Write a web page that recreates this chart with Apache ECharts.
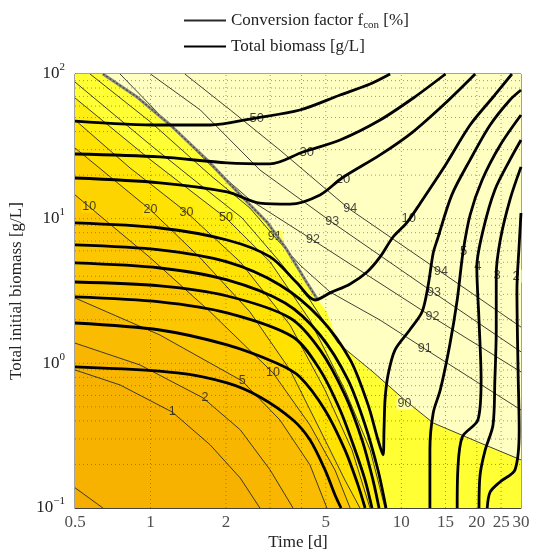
<!DOCTYPE html>
<html><head><meta charset="utf-8">
<script src="https://cdn.jsdelivr.net/npm/echarts@6/dist/echarts.min.js"></script>
<style>html,body{margin:0;padding:0;background:#fff}#c{width:533px;height:553px}</style>
</head><body><div id="c"></div>
<script>
// ---------- axis ticks / grid ----------
const XTICKS = [0.5, 1, 2, 5, 10, 15, 20, 25, 30];
const GRID_X = [1, 2, 3, 4, 5, 10, 15, 20, 25];
const GRID_Y = [0.2,0.3,0.4,0.5,0.6,0.7,0.8,0.9,1,2,3,4,5,6,7,8,9,10,20,30,40,50,60,70,80,90];

// ---------- conversion factor contours [time d, biomass g/L] ----------
const T0_2 = [[0.5,0.138],[0.574,0.116],[0.646,0.1]];
const T1  = [[0.5,0.9],[0.756,0.709],[1.22,0.461],[1.73,0.273],[2.28,0.161],[2.73,0.1]];
const T2  = [[0.5,1.38],[0.908,0.975],[1.62,0.577],[2.28,0.347],[3.0,0.183],[3.7,0.1]];
const T5  = [[0.5,2.83],[1.09,1.57],[2.32,0.755],[3.28,0.406],[4.32,0.199],[5.05,0.1]];
const T10 = [[0.5,14.6],[1.0,5.35],[1.73,2.27],[3.08,0.859],[4.32,0.375],[5.44,0.183],[6.25,0.1]];
const T20 = [[0.5,30.8],[1.0,11.5],[1.58,5.35],[2.49,2.27],[3.6,0.9],[4.74,0.347],[5.96,0.156],[6.84,0.1]];
const T30 = [[0.5,48.1],[0.829,22.4],[1.39,11.1],[2.28,5.02],[3.6,1.84],[4.96,0.655],[6.36,0.252],[7.5,0.1]];
const T50 = [[0.5,68.3],[1.0,25.5],[2.0,10.1],[3.0,5.02],[4.32,1.99],[5.96,0.655],[7.51,0.252],[8.61,0.1]];
const T90 = [[0.5,88],[1.0,32.3],[1.58,17.1],[2.32,10.1],[3.28,5.02],[4.32,2.74],[5.59,1.38],[7.71,0.872],[10.3,0.559],[13.4,0.387],[20.6,0.282],[30,0.215]];
const T91 = [[0.574,100],[1.0,46.6],[1.73,20.0],[2.49,11.85],[3.13,7.47],[3.94,4.79],[5.2,3.11],[8.23,1.99],[12.4,1.26],[30,0.476]];
const T92 = [[0.756,100],[1.14,48.1],[1.73,23.5],[2.49,13.5],[4.44,7.12],[13.3,2.09],[30,0.872]];
const T93 = [[1.0,100],[1.58,56.4],[2.73,21.7],[5.34,9.34],[13.5,3.07],[30,1.2]];
const T94 = [[1.37,100],[2.08,56.4],[3.28,29.8],[6.19,11.7],[14.4,4.28],[30,1.78]];

// ---------- total biomass contours ----------
const B50 = [[0.5,47.3],[1.09,44.4],[1.73,44.4],[2.61,49.6],[3.94,56.4],[5.7,71.6],[7.51,85.3],[9.02,100]];
const B30 = [[0.5,28.0],[1.09,26.7],[2.02,24.3],[3.0,23.9],[4.05,28.9],[5.7,35],[8.23,48.1],[11.3,69.3],[15,100]];
const B20 = [[0.5,19.1],[1.09,17.7],[2.02,15.3],[2.73,12.8],[3.6,12.6],[4.74,14.6],[5.8,19.1],[8.23,27.6],[11.1,39.7],[15,63],[19.7,100]];
const B10 = [[0.5,9.34],[1.09,8.62],[2.02,7.12],[3.0,5.44],[3.84,3.59],[4.53,2.74],[5.2,3.07],[6.25,3.54],[7.3,4.28],[8.23,5.44],[9.27,7.47],[10.5,9.34],[11.9,12.8],[15,23.5],[18.8,44.4],[23.6,71.6],[27.6,100]];
const B7  = [[0.5,6.58],[1.09,6.08],[2.02,5.02],[3.28,3.48],[4.74,2.06],[6.25,1.06],[7.37,0.516],[8.07,0.296],[8.45,0.233],[8.53,0.347],[8.61,0.559],[8.85,0.831],[9.44,1.24],[10.8,1.7],[12.1,2.27],[12.8,3.48],[13.4,5.79],[13.9,7.12],[15.9,14.6],[18.8,25.5],[22.6,44.4],[27.1,66.1],[30,77.5]];
const B5L = [[0.5,4.94],[1.09,4.56],[2.02,3.77],[3.44,2.61],[4.74,1.57],[6.13,0.768],[7.17,0.375],[8.07,0.183],[8.69,0.1]];
const B4L = [[0.5,3.65],[1.09,3.43],[2.02,2.92],[3.6,2.06],[4.74,1.24],[5.96,0.605],[6.97,0.296],[7.71,0.156],[8.15,0.1]];
const B3L = [[0.5,2.88],[1.09,2.66],[2.02,2.23],[3.7,1.52],[4.74,0.9],[5.7,0.476],[6.54,0.252],[7.17,0.156],[7.64,0.1]];
const B2L = [[0.5,1.9],[1.09,1.7],[2.02,1.34],[3.19,1.0],[3.94,0.805],[4.96,0.476],[5.96,0.252],[6.72,0.144],[7.17,0.1]];
const B1  = [[0.5,0.944],[1.28,0.859],[2.02,0.732],[2.73,0.586],[3.7,0.406],[4.32,0.296],[4.96,0.184],[5.44,0.123],[5.75,0.1]];
const B5R = [[13.0,0.1],[13.0,0.252],[13.4,0.454],[14.3,0.655],[15.6,1.34],[16.7,2.74],[17.6,5.79],[18.8,10.6],[21.0,18.5],[24.8,32.3],[30,52.1]];
const B4R = [[16.7,0.1],[16.8,0.184],[17.5,0.31],[20.2,0.406],[20.8,0.768],[20.4,1.99],[20.0,4.64],[21.2,8.37],[23.6,15.8],[27.1,25.5],[30,35]];
const B3R = [[20.4,0.1],[20.6,0.169],[21.6,0.252],[23.2,0.375],[23.6,0.768],[23.9,1.7],[23.9,4.08],[24.8,7.12],[27.1,13.5],[30,22.8]];
const B2R = [[22.0,0.1],[22.6,0.129],[24.8,0.152],[28.4,0.184],[29.5,0.347],[29.2,0.9],[28.9,3.22],[29.5,6.58],[30,10.95]];

// ---------- region boundaries ----------
const JAG = [[0.646,100],[0.884,69.3],[1.2,44.4],[1.68,25.5],[2.38,13.5],[2.91,9.49],[3.5,6.08],[4.21,3.59],[4.65,2.74]];
const PALE_EDGE = [[4.65,2.74],[5.05,2.27],[5.59,1.38],[7.71,0.872],[10.3,0.559],[13.4,0.387],[20.6,0.282],[30,0.215]];

// ---------- contour labels [time, biomass, text] ----------
const LBL_THICK = [[2.65,49.6,'50'],[4.2,28.9,'30'],[5.85,18.8,'20'],[10.7,10,'10'],[14.0,7.3,'7'],[17.7,5.9,'5'],[20.2,4.7,'4'],[24.1,4.08,'3'],[28.7,4.0,'2']];
const LBL_THIN = [[0.57,12.2,'10'],[1.0,11.5,'20'],[1.39,11.1,'30'],[2.0,10.1,'50'],[3.13,7.47,'91'],[4.44,7.12,'92'],[5.3,9.5,'93'],[6.25,11.7,'94'],[14.4,4.28,'94'],[13.5,3.07,'93'],[13.3,2.09,'92'],[12.4,1.26,'91'],[10.3,0.53,'90'],[1.22,0.461,'1'],[1.65,0.577,'2'],[2.32,0.755,'5'],[3.08,0.86,'10']];

// ---------- styles ----------
const C_BASE = '#FFFF33', C_PALE = '#FFFFC2';
const BANDS = [[T50,'#FFEE12'],[T30,'#FFE200'],[T20,'#FED400'],[T10,'#FCC600'],[T5,'#FABC00'],[T2,'#F8B600'],[T1,'#F7B200'],[T0_2,'#F5AE00']];
const THIN_BG = ['#FFD400','#FFE000','#FFE600','#FFF000','#FFFF33',C_PALE,C_PALE,C_PALE,C_PALE,C_PALE,C_PALE,C_PALE,C_PALE,'#F8B600','#F9BA00','#FABF00','#FCC500'];

const chart = echarts.init(document.getElementById('c'));
const serif = 'Liberation Serif';
const sans = 'Liberation Sans';

function poly(pts, fill) {
  return { type: 'custom', coordinateSystem: 'cartesian2d', data: [[1, 1]], silent: true,
    renderItem: function (params, api) {
      return { type: 'polygon', shape: { points: pts.map(p => api.coord(p)) }, style: { fill: fill } };
    } };
}
const series = [];
series.push(poly([[0.5,0.1],[30,0.1],[30,100],[0.5,100]], C_BASE));
BANDS.forEach(b => series.push(poly(b[0].concat([[0.5,0.1]]), b[1])));
series.push(poly(JAG.concat(PALE_EDGE.slice(1), [[30,100]]), C_PALE));

const gridStyle = { stroke: 'rgba(90,90,40,0.6)', lineWidth: 1, lineDash: [1, 3] };
series.push({ type: 'custom', coordinateSystem: 'cartesian2d', silent: true,
  data: GRID_X.map(v => [v, 1]),
  renderItem: function (p, api) {
    const a = api.coord([api.value(0), 0.1]), b = api.coord([api.value(0), 100]);
    return { type: 'line', shape: { x1: a[0], y1: a[1], x2: b[0], y2: b[1] }, style: gridStyle };
  } });
series.push({ type: 'custom', coordinateSystem: 'cartesian2d', silent: true,
  data: GRID_Y.map(v => [1, v]),
  renderItem: function (p, api) {
    const a = api.coord([0.5, api.value(1)]), b = api.coord([30, api.value(1)]);
    return { type: 'line', shape: { x1: a[0], y1: a[1], x2: b[0], y2: b[1] }, style: gridStyle };
  } });

[T0_2,T1,T2,T5,T10,T20,T30,T50,T90,T91,T92,T93,T94].forEach(d => series.push({
  name: 'conv', type: 'line', data: d, symbol: 'none', silent: true,
  itemStyle: { color: 'transparent' },
  lineStyle: { color: '#2a2a2a', width: 0.9 } }));

series.push({ type: 'line', data: JAG, symbol: 'none', silent: true, lineStyle: { color: '#8a8a80', width: 3 } });
series.push({ type: 'line', data: JAG, symbol: 'none', silent: true, lineStyle: { color: '#444', width: 1.2, type: [2, 2] } });

[B50,B30,B20,B10,B7,B5L,B4L,B3L,B2L,B1,B5R,B4R,B3R,B2R].forEach(d => series.push({
  name: 'bio', type: 'line', data: d, symbol: 'none', silent: true, smooth: 0.3,
  itemStyle: { color: 'transparent' },
  lineStyle: { color: '#000', width: 2.8 } }));

series.push({ type: 'scatter', silent: true, symbolSize: 0,
  data: LBL_THIN.map((d, i) => ({ value: [d[0], d[1]], label: { formatter: d[2], backgroundColor: THIN_BG[i] } })),
  label: { show: true, position: 'inside', fontFamily: sans, fontSize: 12.5, color: '#1a1a1a', padding: [0, 1] } });
series.push({ type: 'scatter', silent: true, symbolSize: 0,
  data: LBL_THICK.map(d => ({ value: [d[0], d[1]], label: { formatter: d[2] } })),
  label: { show: true, position: 'inside', fontFamily: sans, fontSize: 13, color: '#111', backgroundColor: C_PALE, padding: [0, 2] } });

series.push({ type: 'scatter', silent: true, symbolSize: 0, clip: false,
  data: XTICKS.map(v => ({ value: [v, 0.1], label: { formatter: String(v) } })),
  label: { show: true, position: 'bottom', distance: 6, fontFamily: serif, fontSize: 17, color: '#222' } });

chart.setOption({
  animation: false,
  grid: { left: 75, top: 74, right: 12, bottom: 45, show: true, borderColor: '#444', borderWidth: 1,
    backgroundColor: 'transparent', containLabel: false, outerBoundsMode: 'none' },
  legend: {
    data: ['conv', 'bio'], orient: 'vertical', left: 178, top: 5, itemWidth: 42, itemHeight: 14, itemGap: 5,
    selectedMode: false, itemStyle: { opacity: 0 },
    formatter: n => n === 'conv' ? 'Conversion factor f{sub|con} [%]' : 'Total biomass [g/L]',
    textStyle: { fontFamily: serif, fontSize: 17, color: '#222', lineHeight: 21,
      rich: { sub: { fontFamily: serif, fontSize: 11, color: '#222', verticalAlign: 'bottom', lineHeight: 10 } } }
  },
  xAxis: { type: 'log', logBase: 10, min: 0.5, max: 30,
    axisLine: { show: true, lineStyle: { color: '#444' } }, axisTick: { show: false }, axisLabel: { show: false },
    splitLine: { show: false },
    name: 'Time [d]', nameLocation: 'middle', nameGap: 26,
    nameTextStyle: { fontFamily: serif, fontSize: 17, color: '#222' } },
  yAxis: { type: 'log', logBase: 10, min: 0.1, max: 100, splitNumber: 3,
    axisLine: { show: true, lineStyle: { color: '#444' } },
    axisTick: { show: true, inside: true, length: 5, lineStyle: { color: '#444' } },
    splitLine: { show: false },
    axisLabel: { margin: 10,
      formatter: v => { const e = Math.round(Math.log10(v)); return '{b|10}{s|' + (e < 0 ? '\u2212' + (-e) : e) + '}'; },
      rich: { b: { fontFamily: serif, fontSize: 17, color: '#222', lineHeight: 24 },
              s: { fontFamily: serif, fontSize: 11, color: '#222', verticalAlign: 'top', lineHeight: 10 } } },
    name: 'Total initial biomass [g/L]', nameLocation: 'middle', nameGap: 50,
    nameTextStyle: { fontFamily: serif, fontSize: 17, color: '#222' } },
  series: series
});
</script></body></html>
